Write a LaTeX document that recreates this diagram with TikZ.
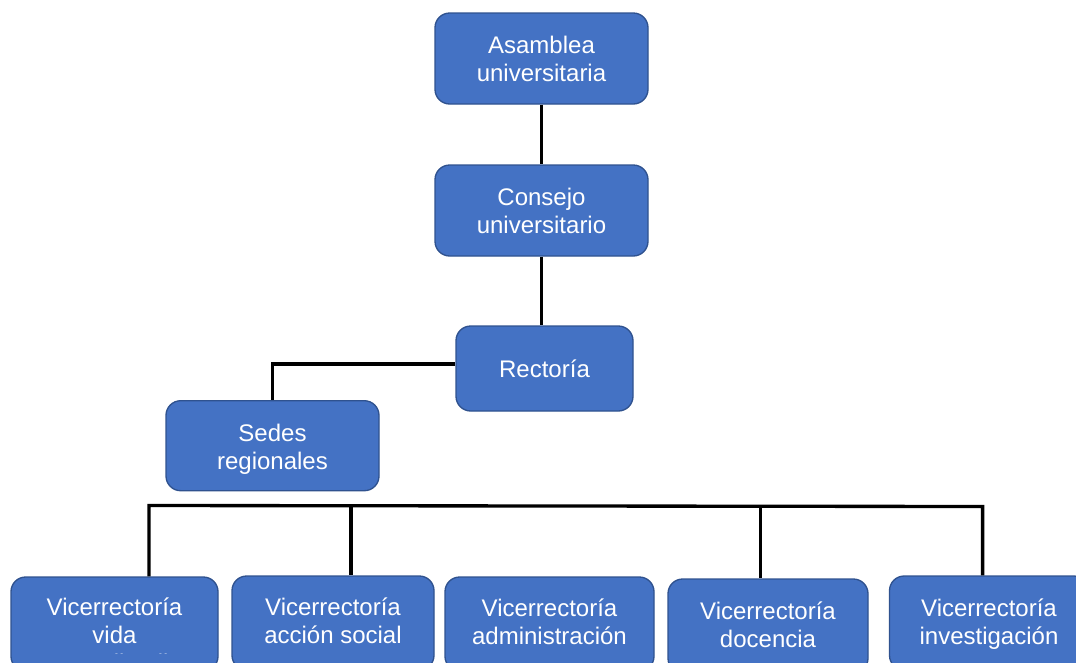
\documentclass[tikz,border=0pt]{standalone}
\usepackage{fontspec}
\setmainfont{Liberation Sans}
\definecolor{boxfill}{HTML}{4472C4}
\definecolor{boxline}{HTML}{2F528F}
\begin{document}
\begin{tikzpicture}[x=0.75pt,y=-0.75pt,
  orgbox/.style={draw=boxline, line width=1pt, fill=boxfill, rounded corners=11pt,
    inner sep=0pt, text=white, font=\fontsize{18}{21}\selectfont, align=center},
  orgtext/.style={inner sep=0pt, text=white, font=\fontsize{18}{21}\selectfont, align=center},
  lowbox/.style={orgbox, minimum height=70.5pt},
  conn/.style={line width=2.5pt, draw=black}]
\useasboundingbox (0,0) rectangle (1076,662);
\clip (0,0) rectangle (1076,662);

% upper boxes
\node[orgbox, minimum width=159.75pt, minimum height=68.25pt] (asamblea) at (541.5,58.5) {Asamblea\\universitaria};
\node[orgbox, minimum width=159.75pt, minimum height=68.25pt] (consejo) at (541.5,210.5) {Consejo\\universitario};
\node[orgbox, minimum width=132.75pt, minimum height=63.75pt] (rectoria) at (544.5,368.5) {Rectoría};
\node[orgbox, minimum width=159.75pt, minimum height=67.5pt] (sedes) at (272.5,445.7) {};
\node[orgtext] (sedestext) at (272.5,449.2) {Sedes\\regionales};

% lower boxes
\node[lowbox, minimum width=155.25pt] (v1) at (114.5,624) {};
\node[lowbox, minimum width=151.5pt] (v2) at (333,623) {};
\node[lowbox, minimum width=156.75pt] (v3) at (549.5,624) {};
\node[lowbox, minimum width=150pt] (v4) at (768,626) {};
\node[lowbox, minimum width=149.25pt] (v5) at (989,623) {};

\begin{scope}
  \clip (0,0) rectangle (1076,653);
  \node[orgtext] (v1text) at (114.5,635) {Vicerrectoría\\vida\\estudiantil};
\end{scope}
\node[orgtext] (v2text) at (333,621) {Vicerrectoría\\acción social};
\node[orgtext] (v3text) at (549.5,622) {Vicerrectoría\\administración};
\node[orgtext] (v4text) at (768,624.3) {Vicerrectoría\\docencia};
\node[orgtext] (v5text) at (989,624.2) {Vicerrectoría\\investigación};

% connectors
\draw[conn] (asamblea.south) -- (consejo.north);
\draw[conn] (consejo.south) -- (consejo.south |- rectoria.north);
\draw[conn] ([yshift=3.4pt]rectoria.west) -| (sedes.north);

\coordinate (b1) at (149,505.5);
\coordinate (b2) at (351,505.7);
\coordinate (b4) at (760.5,506.2);
\coordinate (b5) at (982.6,506.5);
\draw[conn] (b1 |- v1.north) -- (b1) -- (b5) -- (b5 |- v5.north);
\draw[conn] (b2) -- (b2 |- v2.north);
\draw[conn] (b4) -- (b4 |- v4.north);
\end{tikzpicture}
\end{document}
